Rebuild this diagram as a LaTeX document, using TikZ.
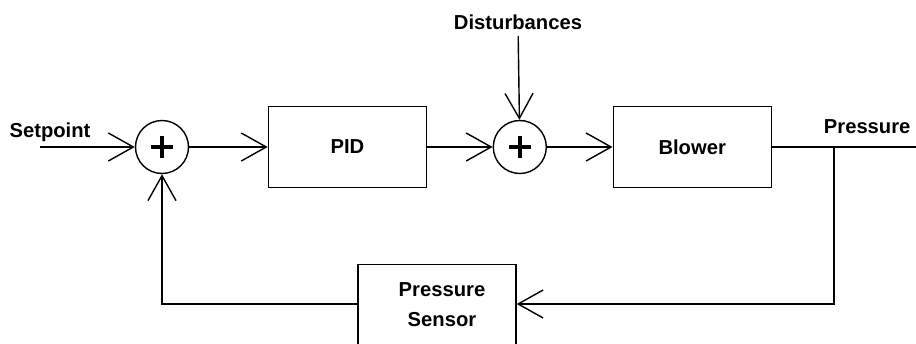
\documentclass[tikz,border=0pt]{standalone}
\usepackage{fontspec}
\setmainfont{Liberation Sans}
\usetikzlibrary{arrows.meta,positioning}

\begin{document}
\begin{tikzpicture}[node distance=1.31cm, line width=0.8pt,
    every node/.style={font=\bfseries\fontsize{11.5}{17}\selectfont},
    block/.style={draw,minimum width=3.16cm,minimum height=1.62cm,inner sep=0pt},
    sumnode/.style={draw,circle,minimum size=1.06cm,inner sep=0pt,
      path picture={
        \draw[line width=2pt] ([xshift=-2.2mm]path picture bounding box.center) -- ([xshift=2.2mm]path picture bounding box.center);
        \draw[line width=2pt] ([yshift=-2.2mm]path picture bounding box.center) -- ([yshift=2.2mm]path picture bounding box.center);}},
    flow/.style={-{Straight Barb[length=5mm,width=5.6mm]}}]
      \useasboundingbox (0,-3.92) rectangle (18.32,2.94);
      % forward path
      \node[sumnode] (sum1) at (3.24,0) {};
      \node[block,right=1.57cm of sum1] (pid) {PID};
      \node[sumnode,right=of pid] (sum2) {};
      \node[block,right=of sum2] (blower) {Blower};
      % feedback
      \node[block,align=center,minimum height=1.6cm] (sensor) at (8.74,-3.15) {\hspace*{0.2cm}Pressure\\\hspace*{0.2cm}Sensor};
      % inputs and output
      \coordinate (in) at (0.8,0);
      \node (setpoint) at (1.0,0.3) {Setpoint};
      \node (dist) at (10.36,2.5) {Disturbances};
      \coordinate (branch) at (16.68,0);
      \coordinate (out) at (18.32,0);
      \node[anchor=east] (pressure) at (18.34,0.4) {Pressure};
      \coordinate (fb) at (16.68,-3.14);
      \coordinate (fbl) at (3.24,-3.14);
      % connectors
      \draw[flow] (in) -- (sum1);
      \draw[flow] (sum1) -- (pid);
      \draw[flow] (pid) -- (sum2);
      \draw[flow] (dist) -- (sum2);
      \draw[flow] (sum2) -- (blower);
      \draw (blower) -- (out);
      \draw[flow] (branch) -- (fb) -- (sensor.east |- fb);
      \draw[flow] (sensor.west |- fbl) -- (fbl) -- (sum1);
    \end{tikzpicture}
\end{document}
